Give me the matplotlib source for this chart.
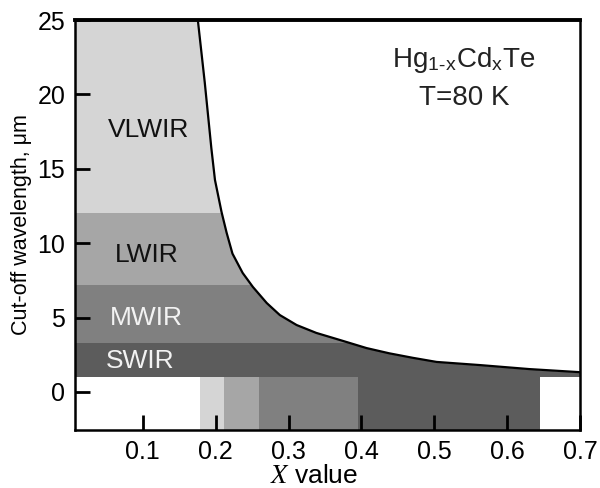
import numpy as np
import matplotlib.pyplot as plt

plt.rcParams['font.family'] = ['Liberation Sans', 'DejaVu Sans']
plt.rcParams['mathtext.fontset'] = 'stix'

# cut-off wavelength curve (x value, um)
curve_x = [0.1755, 0.185, 0.194, 0.199, 0.208, 0.215, 0.223, 0.237, 0.251, 0.27, 0.288,
           0.311, 0.338, 0.37, 0.407, 0.438, 0.47, 0.503, 0.562, 0.63, 0.70]
curve_y = [25.0, 20.8, 16.4, 14.25, 12.1, 10.7, 9.3, 8.0, 7.06, 5.98, 5.17,
           4.5, 3.97, 3.5, 2.95, 2.6, 2.3, 2.02, 1.81, 1.54, 1.33]

# spectral bands (lower, upper wavelength) and labels
band_names = ['SWIR', 'MWIR', 'LWIR', 'VLWIR']
band_lo = [1.0, 3.3, 7.2, 12.0]
band_hi = [3.3, 7.2, 12.0, 25.0]
band_colors = ['#5c5c5c', '#808080', '#a6a6a6', '#d5d5d5']
label_x = [0.097, 0.105, 0.105, 0.1075]
label_y = [2.1, 5.0, 9.2, 17.6]
label_colors = ['#f2f2f2', '#f2f2f2', '#111111', '#111111']

# composition ranges in the bottom strip
strip_edges = [0.178, 0.212, 0.26, 0.395, 0.645]
strip_colors = ['#d5d5d5', '#a6a6a6', '#808080', '#5c5c5c']

fig = plt.figure(figsize=(6, 4.88), dpi=100)
ax = fig.add_axes([0.125, 0.119, 0.842, 0.84])
ax.set_xlim(0.007, 0.7)
ax.set_ylim(-2.55, 25)

for lo, hi, c in zip(band_lo, band_hi, band_colors):
    ax.axhspan(lo, hi, color=c, lw=0, zorder=1)

ax.fill_between(curve_x, curve_y, 26, color='white', lw=0, zorder=2)
ax.plot(curve_x, curve_y, color='black', lw=1.6, zorder=3)

for i, c in enumerate(strip_colors):
    ax.fill_between([strip_edges[i], strip_edges[i + 1]], -2.55, 1.0, color=c, lw=0, zorder=1)

for name, x, y, c in zip(band_names, label_x, label_y, label_colors):
    ax.text(x, y, name, color=c, fontsize=19, ha='center', va='center', zorder=4)

ax.text(0.541, 22.3, r'Hg$_{\mathregular{1\text{-}x}}$Cd$_{\mathregular{x}}$Te', fontsize=20,
        ha='center', va='center', color='#222222')
ax.text(0.541, 19.75, 'T=80 K', fontsize=20, ha='center', va='center', color='#222222')

ax.set_xticks([0.1, 0.2, 0.3, 0.4, 0.5, 0.6, 0.7])
ax.set_xticklabels(['0.1', '0.2', '0.3', '0.4', '0.5', '0.6', '0.7'])
ax.set_yticks([0, 5, 10, 15, 20, 25])
ax.tick_params(direction='in', length=11, width=2, labelsize=18, pad=7, color='black')
ax.tick_params(axis='x', pad=7)

ax.set_xlabel(r'$X$ value', fontsize=19)
ax.xaxis.set_label_coords(0.473, -0.083)
ax.set_ylabel('Cut-off wavelength, μm', fontsize=15.5, labelpad=4)

for side in ['left', 'bottom', 'right']:
    ax.spines[side].set_linewidth(1.8)
ax.spines['top'].set_linewidth(2.8)
for sp in ax.spines.values():
    sp.set_zorder(5)

fig.savefig('out.png', dpi=100)
